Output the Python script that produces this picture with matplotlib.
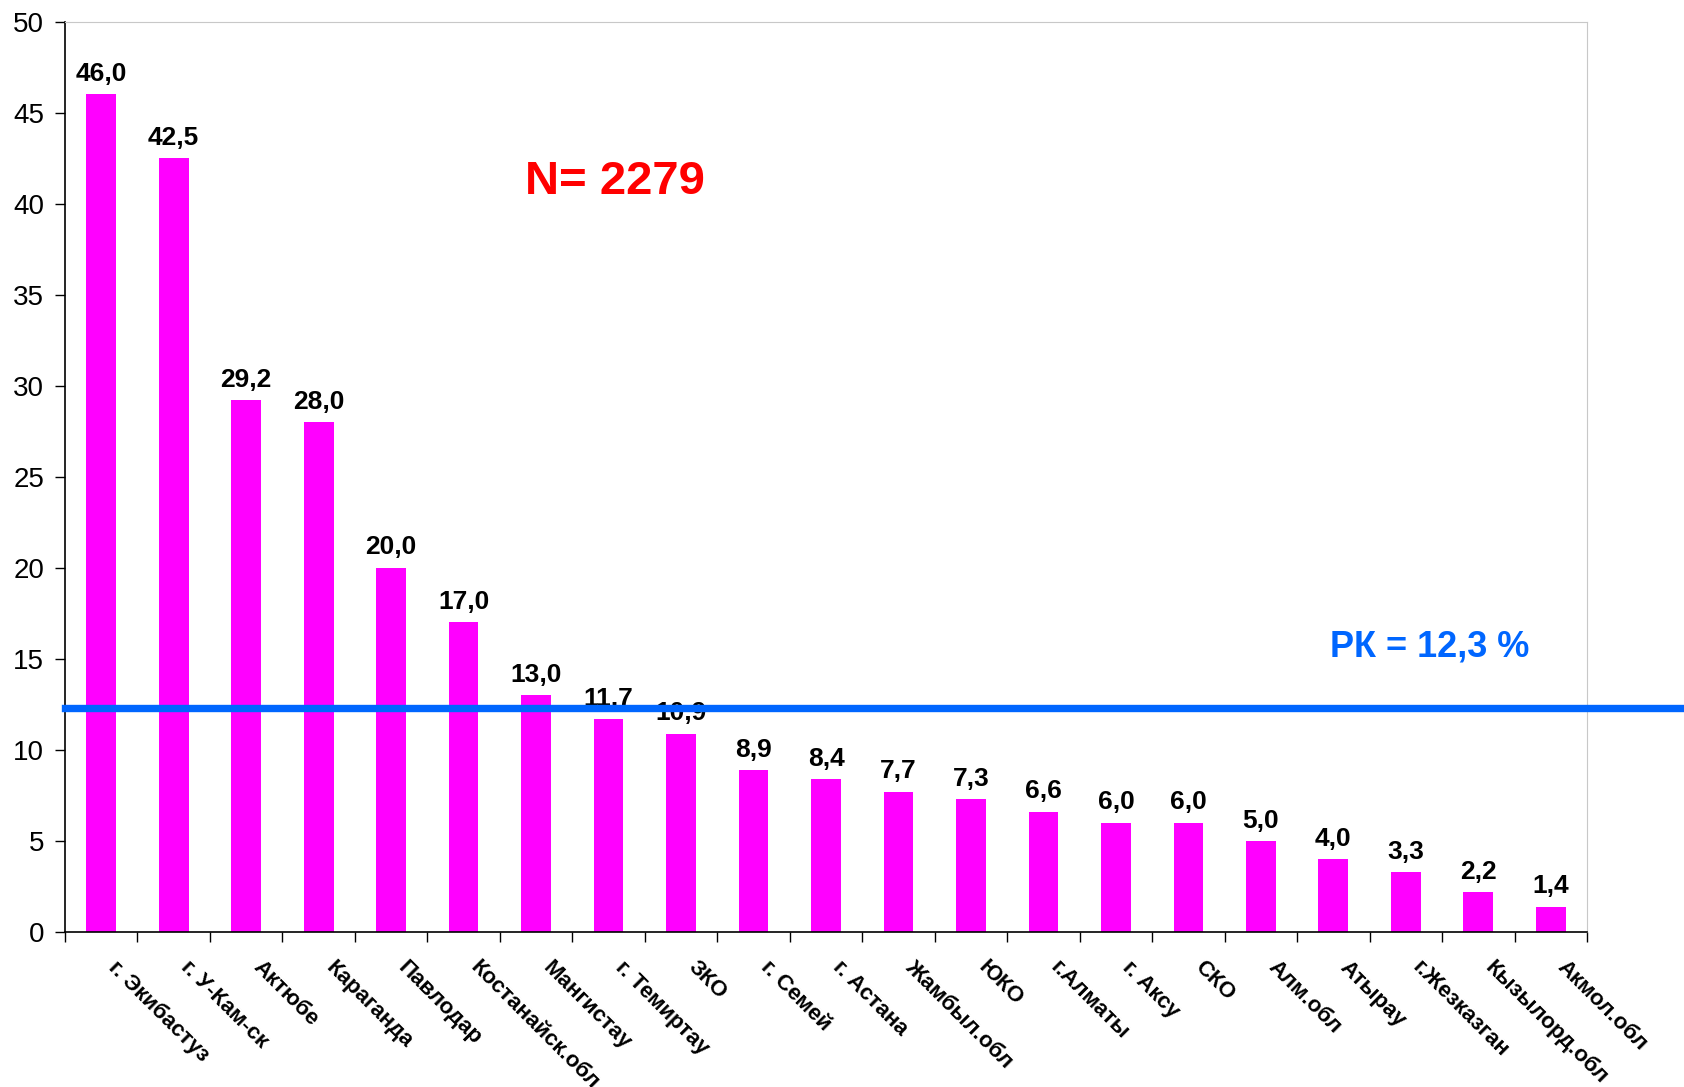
import matplotlib
matplotlib.use("Agg")
import matplotlib.pyplot as plt

plt.rcParams['font.family'] = ['Liberation Sans', 'DejaVu Sans']

# регионы и значения (%)
regions = ["г. Экибастуз", "г. У-Кам-ск", "Актюбе", "Караганда", "Павлодар",
           "Костанайск.обл", "Мангистау", "г. Темиртау", "ЗКО", "г. Семей",
           "г. Астана", "Жамбыл.обл", "ЮКО", "г.Алматы", "г. Аксу", "СКО",
           "Алм.обл", "Атырау", "г.Жезказган", "Кызылорд.обл", "Акмол.обл"]
values = [46.0, 42.5, 29.2, 28.0, 20.0, 17.0, 13.0, 11.7, 10.9, 8.9, 8.4,
          7.7, 7.3, 6.6, 6.0, 6.0, 5.0, 4.0, 3.3, 2.2, 1.4]
rk_value = 12.3
n_total = 2279

fig = plt.figure(figsize=(16.84, 10.87), dpi=100)
ax = fig.add_axes([0.0386, 0.1426, 0.9038, 0.8376])

x = list(range(len(regions)))
ax.bar(x, values, width=0.41, color='#FF00FF', zorder=2)

# подписи значений
for xi, v in zip(x, values):
    ax.annotate(f"{v:.1f}".replace('.', ','), (xi, v), xytext=(0, 6),
                textcoords='offset points', ha='center', va='bottom',
                fontsize=19, fontweight='bold', zorder=3)

# линия среднего по РК
ax.axhline(rk_value, xmin=0, xmax=1.065, color='#0066FF', lw=5.3,
           clip_on=False, zorder=5)
ax.text(18.33, 15.65, "РК = 12,3 %", color='#0066FF', fontsize=26,
        fontweight='bold', ha='center', va='center')
ax.text(7.09, 41.2, f"N= {n_total}", color='#FF0000', fontsize=34,
        fontweight='bold', ha='center', va='center')

ax.set_xlim(-0.5, len(regions) - 0.5)
ax.set_ylim(0, 50)
ax.set_yticks(range(0, 51, 5))
ax.tick_params(axis='y', direction='out', length=7, width=1, labelsize=20, pad=8)

# деления между столбцами, подписи под столбцами (чуть правее центра)
ax.set_xticks([i - 0.5 for i in range(len(regions) + 1)])
ax.set_xticklabels([])
ax.tick_params(axis='x', which='major', direction='out', length=7, width=1)
ax.set_xticks([i + 0.24 for i in x], minor=True)
ax.set_xticklabels(regions, minor=True, rotation=-45, ha='left', va='top',
                   rotation_mode='anchor', fontsize=16, fontweight='bold')
ax.tick_params(axis='x', which='minor', length=0, pad=18)

for side in ['top', 'right']:
    ax.spines[side].set_color('#C8C8C8')
for side in ['left', 'bottom']:
    ax.spines[side].set_color('black')
    ax.spines[side].set_linewidth(1.2)

fig.savefig('out.png', dpi=100)
